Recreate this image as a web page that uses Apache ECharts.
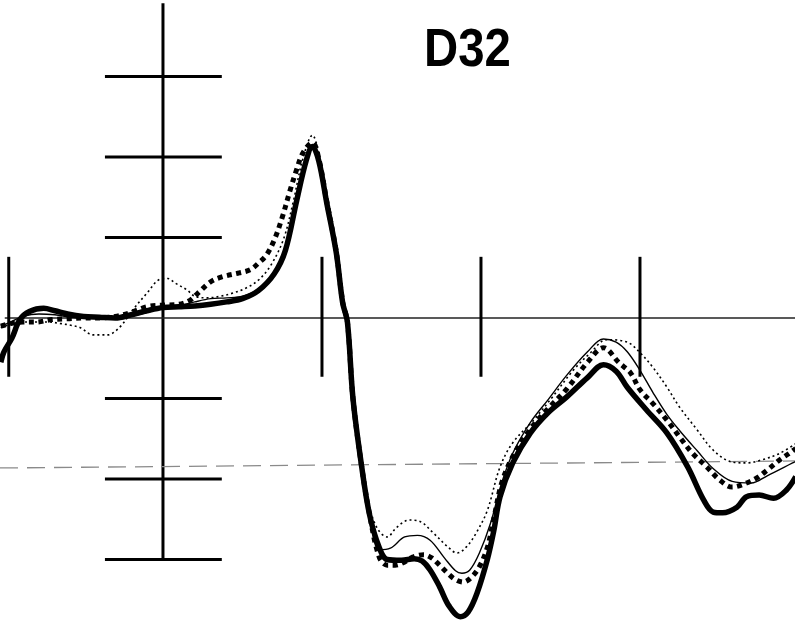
<!DOCTYPE html>
<html>
<head>
<meta charset="utf-8">
<script src="https://cdn.jsdelivr.net/npm/echarts@6/dist/echarts.min.js"></script>
<style>html,body{margin:0;padding:0;background:#fff;}#c{width:795px;height:627px;}</style>
</head>
<body>
<div id="c"></div>
<script>
// time in ms, amplitude in µV
const yTickValues = [3, 2, 1, -1, -2, -3];
const xTickValues = [-97, 100, 200, 300];
const dashedRef = [[-102.5, -1.863], [397.5, -1.776]];

const thickSolid = [
  [-102,-0.55],[-100,-0.42],[-95,-0.25],[-90,-0.02],[-84,0.08],[-75,0.12],[-68,0.09],[-60,0.05],
  [-50,0.02],[-40,0.01],[-30,0.0],[-20,0.04],[-10,0.09],[0,0.13],[10,0.14],[20,0.15],[30,0.17],
  [40,0.20],[50,0.24],[60,0.34],[70,0.55],[77,0.84],[84,1.45],[90,1.95],[94,2.13],[98,1.95],
  [103,1.43],[109,0.81],[113,0.19],[116,-0.05],[119.5,-1.0],[125,-1.85],[130,-2.45],[136,-2.85],
  [141,-3.0],[150,-3.01],[158,-2.99],[163,-3.02],[168,-3.13],[174,-3.34],[180,-3.58],[187,-3.71],
  [192,-3.65],[197.5,-3.42],[204,-3.0],[208,-2.65],[212,-2.22],[220,-1.80],[231,-1.43],[242,-1.18],
  [254,-0.98],[267,-0.74],[277,-0.58],[285,-0.66],[292,-0.86],[304,-1.14],[317,-1.43],[330,-1.85],
  [340,-2.26],[346,-2.41],[352,-2.42],[361,-2.35],[367,-2.22],[375,-2.20],[384,-2.24],[392,-2.14],[398,-1.97]
];
const thinSolid = [
  [-102,-0.10],[-96,-0.05],[-88,0.02],[-78,0.05],[-68,0.04],[-58,0.01],[-48,0.0],[-38,0.0],[-28,0.0],
  [-18,0.03],[-8,0.08],[0,0.12],[10,0.15],[20,0.20],[30,0.24],[40,0.25],[50,0.27],[60,0.36],[70,0.56],
  [77,0.86],[84,1.47],[90,1.97],[94,2.15],[98,1.97],[103,1.43],[109,0.81],[113,0.19],[116,-0.05],
  [119.5,-1.0],[125,-1.85],[130,-2.45],[136,-2.88],[143,-2.86],[152,-2.72],[160,-2.70],[168,-2.76],
  [177,-2.98],[184,-3.14],[188,-3.17],[193,-3.13],[199,-2.92],[206,-2.55],[213,-2.05],[220,-1.68],
  [231,-1.30],[242,-1.02],[254,-0.71],[267,-0.42],[277,-0.26],[285,-0.30],[292,-0.42],[300,-0.65],
  [308,-0.92],[317,-1.20],[325,-1.40],[336,-1.65],[346,-1.87],[358,-2.03],[370,-2.05],[380,-1.96],
  [396,-1.80],[398,-1.78]
];
const dottedThin = [
  [-102,-0.12],[-96,-0.08],[-88,-0.05],[-80,-0.05],[-72,-0.05],[-64,-0.07],[-58,-0.09],[-52,-0.12],
  [-44,-0.21],[-35,-0.21],[-27,-0.11],[-19,0.10],[-10,0.31],[-2,0.48],[3,0.49],[8,0.43],[15,0.35],
  [20,0.27],[28,0.25],[36,0.27],[44,0.31],[52,0.37],[60,0.47],[68,0.66],[76,0.99],[82,1.45],
  [88,1.98],[94,2.27],[98,2.05],[103,1.50],[109,0.85],[113,0.22],[116,-0.03],[119.5,-1.0],[125,-1.83],
  [130,-2.35],[135,-2.62],[141,-2.72],[147,-2.60],[155,-2.51],[162,-2.53],[170,-2.67],[179,-2.84],
  [185,-2.92],[191,-2.84],[197,-2.67],[204,-2.39],[212,-1.85],[220,-1.55],[233,-1.27],[245,-0.98],
  [258,-0.65],[269,-0.43],[279,-0.27],[292,-0.30],[300,-0.43],[308,-0.61],[317,-0.86],[325,-1.11],
  [336,-1.39],[346,-1.64],[358,-1.79],[367,-1.80],[377,-1.76],[388,-1.68],[398,-1.56]
];
const asterisk = [
  [-102,-0.10],[-96,-0.07],[-88,-0.05],[-80,-0.05],[-70,-0.02],[-60,-0.01],[-50,0.0],[-40,0.0],
  [-30,0.02],[-20,0.07],[-10,0.14],[0,0.16],[10,0.17],[17,0.22],[22,0.31],[30,0.45],[37,0.51],
  [48,0.56],[55,0.60],[60,0.68],[65,0.78],[70,0.97],[75,1.25],[80,1.59],[84,1.84],[88,2.05],
  [94,2.18],[98,1.98],[103,1.45],[109,0.82],[113,0.20],[116,-0.05],[119.5,-1.0],[125,-1.85],
  [130,-2.45],[136,-2.97],[141,-3.07],[146,-3.07],[151,-3.04],[157,-2.97],[164,-2.94],[169,-2.98],
  [174,-3.07],[179,-3.17],[184,-3.25],[189,-3.28],[194,-3.22],[199,-3.09],[204,-2.85],[208,-2.50],
  [213,-2.05],[220,-1.72],[231,-1.38],[242,-1.13],[254,-0.88],[267,-0.55],[277,-0.37],[287,-0.56],
  [294,-0.68],[300,-0.89],[308,-1.06],[317,-1.27],[325,-1.48],[333,-1.68],[342,-1.85],[350,-2.01],
  [358,-2.10],[367,-2.05],[374,-1.98],[380,-1.89],[388,-1.76],[394,-1.68],[398,-1.62]
];

const ink = '#000';
function seg(data, width, color, type) {
  return { type: 'line', data: data, symbol: 'none', silent: true, z: 1,
    lineStyle: { width: width, color: color || ink, type: type || 'solid', cap: 'butt' } };
}
const series = [];
// vertical (amplitude) axis and its ticks
series.push(seg([[0, 3.91], [0, -3.02]], 3));
yTickValues.forEach(v => series.push(seg([[-36.5, v], [37, v]], 3)));
// time baseline and its ticks
series.push(seg([[-99.5, 0], [397.5, 0]], 1.5, '#222'));
xTickValues.forEach(t => series.push(seg([[t, 0.76], [t, -0.73]], 3)));
// dashed reference line
series.push(seg(dashedRef, 1.3, '#8a8a8a', [18, 9]));

function wave(data, width, type, z) {
  return { type: 'line', data: data, symbol: 'none', smooth: 0.35, silent: true, z: z,
    lineStyle: { width: width, color: ink, type: type, cap: 'butt', join: 'round' } };
}
series.push(wave(dottedThin, 1.6, [2, 3], 3));
series.push(wave(thinSolid, 1.4, 'solid', 4));
series.push(wave(asterisk, 5, [5, 4.5], 5));
series.push(wave(thickSolid, 5.5, 'solid', 6));

const chart = echarts.init(document.getElementById('c'), null, { renderer: 'canvas' });
chart.setOption({
  animation: false,
  backgroundColor: '#fff',
  grid: { left: 0, right: 0, top: 0, bottom: 0, containLabel: false },
  xAxis: { type: 'value', min: -102.5, max: 397.5, show: false },
  yAxis: { type: 'value', min: -3.8385, max: 3.9503, show: false },
  graphic: [{
    type: 'text', x: 424, y: 51, scaleX: 0.91, scaleY: 1.02, originX: 0, originY: 0,
    style: { text: 'D32', font: 'bold 52px "Liberation Sans", Arial, sans-serif', fill: '#000',
      verticalAlign: 'middle', align: 'left' }
  }],
  series: series
});
</script>
</body>
</html>
